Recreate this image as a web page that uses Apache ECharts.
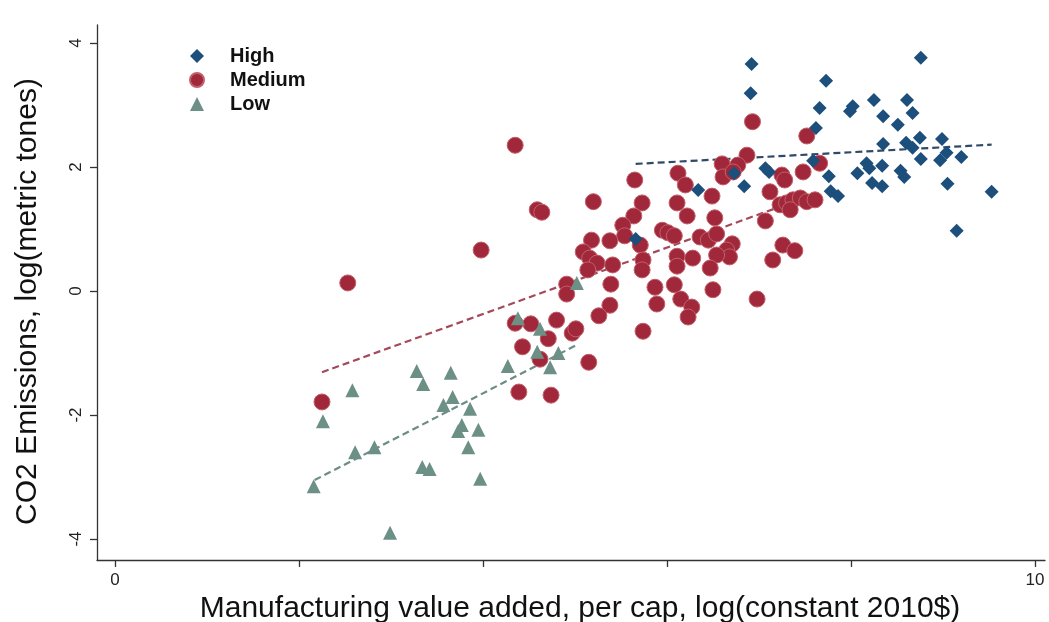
<!DOCTYPE html>
<html>
<head>
<meta charset="utf-8">
<script src="https://cdn.jsdelivr.net/npm/echarts@6/dist/echarts.min.js"></script>
<style>
  html, body { margin: 0; padding: 0; background: #fff; }
  #chart { width: 1049px; height: 622px; }
</style>
</head>
<body>
<div id="chart"></div>
<script>
// income groups, [log manufacturing value added per cap, log CO2]
var groupNames = ['High', 'Medium', 'Low'];

var highPts = [
  [6.92, 3.66], [6.91, 3.19], [7.73, 3.39], [8.76, 3.76], [7.66, 2.95],
  [8.02, 2.98], [7.99, 2.90], [8.25, 3.08], [8.61, 3.08], [8.35, 2.82],
  [8.67, 2.87], [8.51, 2.68], [7.62, 2.63], [8.35, 2.37], [8.60, 2.39],
  [8.75, 2.47], [8.67, 2.31], [8.99, 2.45], [9.04, 2.23], [8.97, 2.11],
  [9.20, 2.16], [8.76, 2.13], [7.59, 2.10], [7.07, 1.98], [7.11, 1.92],
  [6.73, 1.90], [8.17, 2.06], [8.34, 2.02], [8.20, 1.98], [8.07, 1.90],
  [8.54, 1.94], [8.58, 1.84], [7.76, 1.85], [6.34, 1.63], [6.84, 1.69],
  [7.78, 1.61], [7.86, 1.53], [8.23, 1.74], [8.34, 1.69], [9.05, 1.73],
  [9.53, 1.60], [9.15, 0.97], [5.66, 0.84]
];

var mediumPts = [
  [2.53, 0.13], [2.25, -1.79], [4.35, 2.35], [4.59, 1.31], [4.64, 1.27],
  [3.98, 0.66], [5.20, 1.44], [5.65, 1.79], [5.73, 1.42], [5.64, 1.21],
  [5.52, 1.06], [5.54, 0.89], [5.18, 0.82], [5.38, 0.81], [5.71, 0.74],
  [5.09, 0.63], [5.16, 0.53], [5.24, 0.45], [5.14, 0.34], [5.41, 0.42],
  [5.74, 0.50], [5.73, 0.34], [4.91, 0.11], [4.91, -0.05], [5.39, 0.11],
  [5.38, -0.23], [5.26, -0.40], [4.80, -0.47], [4.35, -0.52], [4.52, -0.53],
  [4.71, -0.77], [4.97, -0.68], [5.01, -0.61], [4.43, -0.90], [4.62, -1.10],
  [5.15, -1.15], [4.39, -1.63], [4.74, -1.68], [5.74, -0.65], [5.87, 0.06],
  [6.08, 0.10], [5.89, -0.21], [6.15, -0.13], [6.27, -0.26], [6.23, -0.42],
  [6.50, 0.02], [6.98, -0.13], [5.95, 0.98], [6.01, 0.94], [6.08, 0.89],
  [6.36, 0.87], [6.45, 0.82], [6.54, 0.92], [6.71, 0.76], [6.65, 0.66],
  [6.68, 0.55], [6.54, 0.58], [6.11, 0.56], [6.11, 0.40], [6.28, 0.53],
  [6.47, 0.37], [6.12, 1.90], [6.20, 1.71], [6.49, 1.53], [6.11, 1.42],
  [6.22, 1.21], [6.52, 1.18], [6.93, 2.73], [7.52, 2.50], [6.87, 2.19],
  [6.60, 2.05], [6.77, 2.03], [6.61, 1.84], [6.72, 1.92], [7.25, 1.87],
  [7.28, 1.79], [7.48, 1.92], [7.66, 2.06], [7.12, 1.60], [7.23, 1.39],
  [7.30, 1.42], [7.37, 1.47], [7.45, 1.50], [7.52, 1.44], [7.61, 1.47],
  [7.34, 1.31], [7.07, 1.13], [7.26, 0.74], [7.39, 0.65], [7.15, 0.50]
];

var lowPts = [
  [3.28, -1.29], [3.65, -1.32], [3.35, -1.50], [2.58, -1.60], [3.67, -1.71],
  [3.57, -1.84], [3.86, -1.90], [2.26, -2.10], [3.77, -2.16], [3.73, -2.26],
  [3.95, -2.24], [3.84, -2.52], [2.61, -2.60], [2.82, -2.52], [3.34, -2.84],
  [3.42, -2.87], [3.97, -3.03], [2.16, -3.15], [2.99, -3.90], [4.38, -0.44],
  [4.62, -0.61], [4.59, -0.98], [4.82, -1.00], [4.27, -1.21], [4.73, -1.23],
  [5.02, 0.13]
];

// fitted lines, end points
var highFit = [[5.66, 2.05], [9.53, 2.36]];
var mediumFit = [[2.25, -1.31], [7.53, 1.52]];
var lowFit = [[2.17, -3.05], [5.02, -0.87]];

var xTicks = [0, 2, 4, 6, 8, 10];
var xTickLabels = [0, 10];
var yTicks = [-4, -2, 0, 2, 4];

var chart = echarts.init(document.getElementById('chart'));
var font = 'Liberation Sans, Arial, sans-serif';

function fitLine(name, pts, color) {
  return {
    name: name + ' fit',
    type: 'line',
    data: pts,
    symbol: 'none',
    silent: true,
    z: 1,
    lineStyle: { color: color, width: 2.2, type: [7, 4] }
  };
}

chart.setOption({
  animation: false,
  backgroundColor: '#fff',
  grid: { left: 97, right: 4, top: 25, bottom: 62, containLabel: false, outerBoundsMode: 'none' },
  legend: {
    data: groupNames,
    orient: 'vertical',
    left: 184,
    top: 41,
    itemWidth: 14,
    itemHeight: 14,
    itemGap: 4,
    textStyle: {
      fontSize: 20, fontWeight: 'bold', color: '#111', fontFamily: font,
      lineHeight: 20, padding: [0, 0, 0, 21]
    }
  },
  xAxis: {
    type: 'value',
    min: -0.196,
    max: 10.11,
    name: 'Manufacturing value added, per cap, log(constant 2010$)',
    nameLocation: 'middle',
    nameGap: 29,
    nameTextStyle: { fontSize: 30, color: '#111', fontFamily: font, padding: [0, 0, 0, 18] },
    splitLine: { show: false },
    axisLine: { onZero: false, lineStyle: { color: '#333', width: 1.3 } },
    axisTick: { customValues: xTicks, length: 7, lineStyle: { color: '#333', width: 1.3 } },
    axisLabel: { customValues: xTickLabels, fontSize: 17, color: '#222', margin: 12, fontFamily: font }
  },
  yAxis: {
    type: 'value',
    min: -4.339,
    max: 4.29,
    name: 'CO2 Emissions, log(metric tones)',
    nameLocation: 'middle',
    nameGap: 54,
    nameTextStyle: { fontSize: 30, color: '#111', fontFamily: font, padding: [0, 18, 0, 0] },
    splitLine: { show: false },
    axisLine: { show: true, onZero: false, lineStyle: { color: '#333', width: 1.3 } },
    axisTick: { show: true, customValues: yTicks, length: 7, lineStyle: { color: '#333', width: 1.3 } },
    axisLabel: { customValues: yTicks, rotate: 90, fontSize: 17, color: '#222', margin: 12, fontFamily: font }
  },
  series: [
    {
      name: 'High', type: 'scatter', data: highPts, symbol: 'diamond', symbolSize: 14, z: 3,
      itemStyle: { color: '#1c4f7c', opacity: 1 }
    },
    {
      name: 'Medium', type: 'scatter', data: mediumPts, symbol: 'circle', symbolSize: 16, z: 2,
      itemStyle: { color: '#a0283a', borderColor: '#c2606a', borderWidth: 1, opacity: 1 }
    },
    {
      name: 'Low', type: 'scatter', data: lowPts, symbol: 'triangle', symbolSize: 14, z: 2,
      itemStyle: { color: '#6c9086', opacity: 1 }
    },
    fitLine('High', highFit, '#2f4a66'),
    fitLine('Medium', mediumFit, '#a5485a'),
    fitLine('Low', lowFit, '#6c8d86')
  ]
});
</script>
</body>
</html>
